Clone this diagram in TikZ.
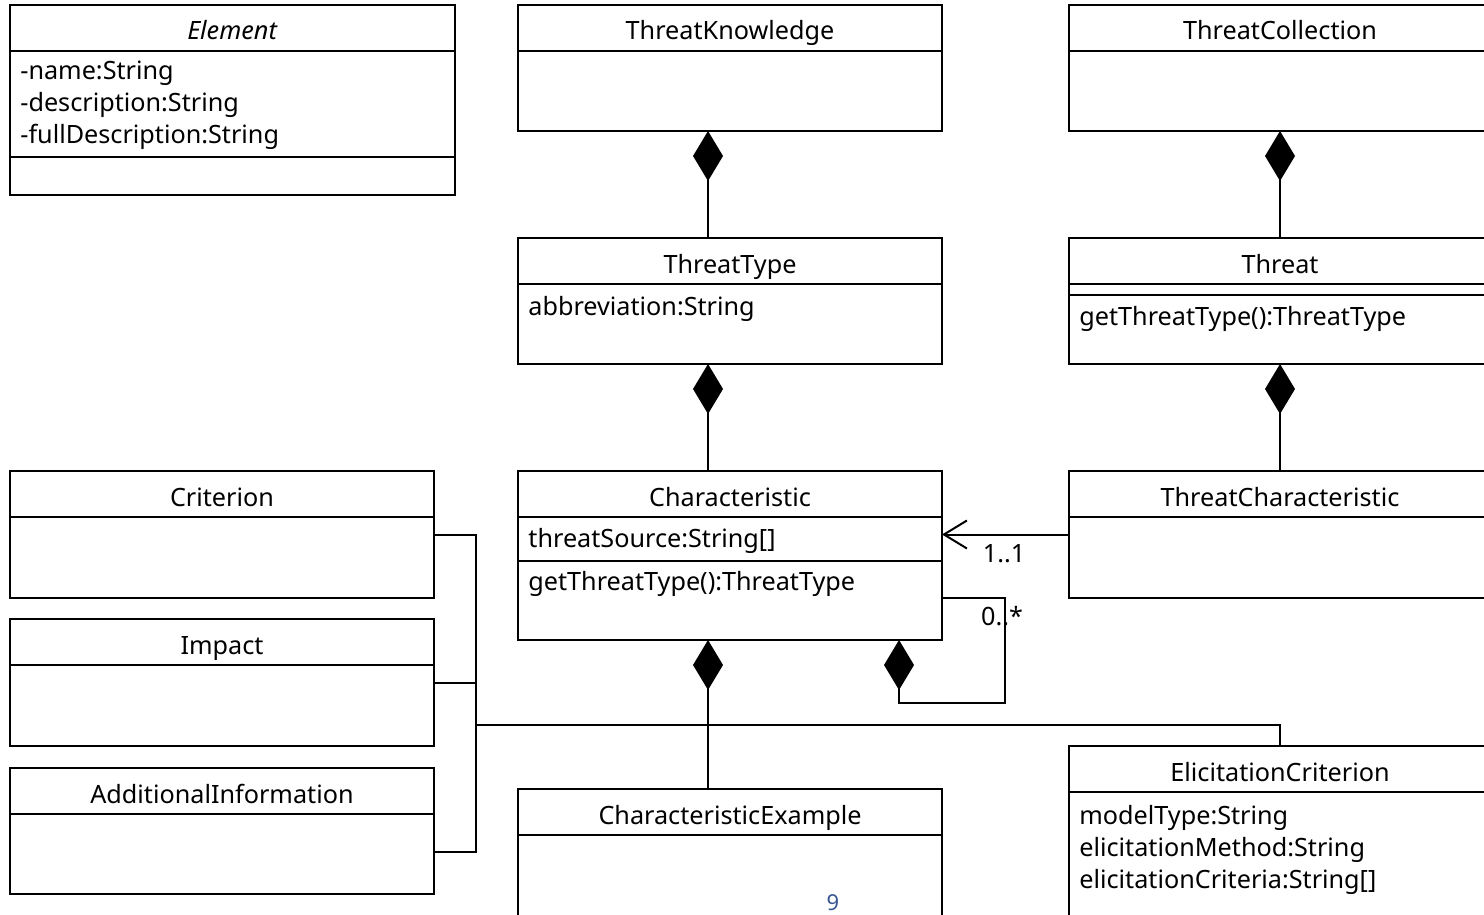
\documentclass[tikz,border=0pt]{standalone}
\usepackage{fontspec}
\setmainfont{Noto Sans}
\usetikzlibrary{calc, positioning, arrows.meta}
\definecolor{pagecol}{RGB}{55, 85, 145}

\begin{document}
\begin{tikzpicture}[
    x=0.5pt, y=-0.5pt,
    font=\fontsize{12.6}{16}\selectfont,
    cls/.style={draw, line width=1pt, inner sep=0pt, outer sep=0pt,
      anchor=north west},
    ttl/.style={anchor=base, inner sep=0pt},
    attr/.style={anchor=base west, inner sep=0pt},
    mult/.style={anchor=base, inner sep=0pt},
    link/.style={line width=1pt},
    comp/.style={link, {Diamond[length=25pt, width=15pt]}-},
    assoc/.style={link, -{Straight Barb[length=11.5pt, width=14pt]}}
]
    \clip (0,0) rectangle (1484,915);

    % --- Classes (name / left / top / width / height / title) ---
    \foreach \nm/\x/\y/\w/\h/\ttl in {
      el/10/5/445/190/{\textit{Element}},
      tk/518/5/424/126/ThreatKnowledge,
      tc/1069/5/422/126/ThreatCollection,
      tt/518/238/424/126/ThreatType,
      th/1069/238/422/126/Threat,
      ch/518/471/424/169/Characteristic,
      thc/1069/471/422/127/ThreatCharacteristic,
      cr/10/471/424/127/Criterion,
      im/10/619/424/127/Impact,
      ai/10/768/424/126/AdditionalInformation,
      cx/518/789/424/200/CharacteristicExample,
      ec/1069/746/422/200/ElicitationCriterion}{
      \node[cls, minimum width=\w*0.5pt, minimum height=\h*0.5pt]
          (\nm) at (\x,\y) {};
      \node[ttl] (\nm-t) at ($(\nm.north)+(0,35)$) {\ttl};
      \draw[link] ($(\nm.north west)+(0,46)$) -- ($(\nm.north east)+(0,46)$);
    }

    % --- second compartments ---
    \draw[link] ($(el.north west)+(0,152)$) -- ($(el.north east)+(0,152)$);
    \draw[link] ($(th.north west)+(0,57)$) -- ($(th.north east)+(0,57)$);
    \draw[link] ($(ch.north west)+(0,90)$) -- ($(ch.north east)+(0,90)$);

    % --- Attributes and operations ---
    \foreach \i/\txt in {0/-name:String, 1/-description:String,
                         2/-fullDescription:String}{
      \node[attr] (el-a\i) at (20,80+32*\i) {\txt};
    }
    \node[attr] (tt-a0) at (528,315) {abbreviation:String};
    \node[attr] (th-o0) at (1079,325) {getThreatType():ThreatType};
    \node[attr] (ch-a0) at (528,547) {threatSource:String[]};
    \node[attr] (ch-o0) at (528,590) {getThreatType():ThreatType};
    \foreach \i/\txt in {0/modelType:String, 1/elicitationMethod:String,
                         2/elicitationCriteria:String[]}{
      \node[attr] (ec-a\i) at (1079,824+32*\i) {\txt};
    }

    % --- Helper coordinates ---
    \coordinate (colA) at (708,0);
    \coordinate (colB) at (899,0);
    \coordinate (rowB) at (0,598);
    \coordinate (rowC) at (0,852);
    \coordinate (loopR) at (1005,703);
    \coordinate (bus) at (476,725);

    % --- Compositions ---
    \draw[comp] (tk.south -| colA) -- (tt.north -| colA);
    \draw[comp] (tc.south) -- (th.north);
    \draw[comp] (tt.south -| colA) -- (ch.north -| colA);
    \draw[comp] (th.south) -- (thc.north);
    \draw[comp] (ch.south -| colA) -- (cx.north -| colA);
    \draw[comp] (ch.south -| colB) |- (loopR) |- (ch.east |- rowB);

    % --- Associations ---
    \draw[assoc] (thc.west) -- (ch.east |- thc.west);
    \draw[link] (cr.east) -| (bus) -| (ec.north);
    \draw[link] (im.east) -| (bus);
    \draw[link] (ai.east |- rowC) -| (bus);

    % --- Multiplicities ---
    \node[mult] (m-one) at (1004,562) {1..1};
    \node[mult] (m-many) at (1002,625) {0..*};

    % --- Page number ---
    \node[anchor=base, inner sep=0pt, text=pagecol,
          font=\fontsize{11}{13}\selectfont] (pg) at (833,910) {9};
\end{tikzpicture}
\end{document}
